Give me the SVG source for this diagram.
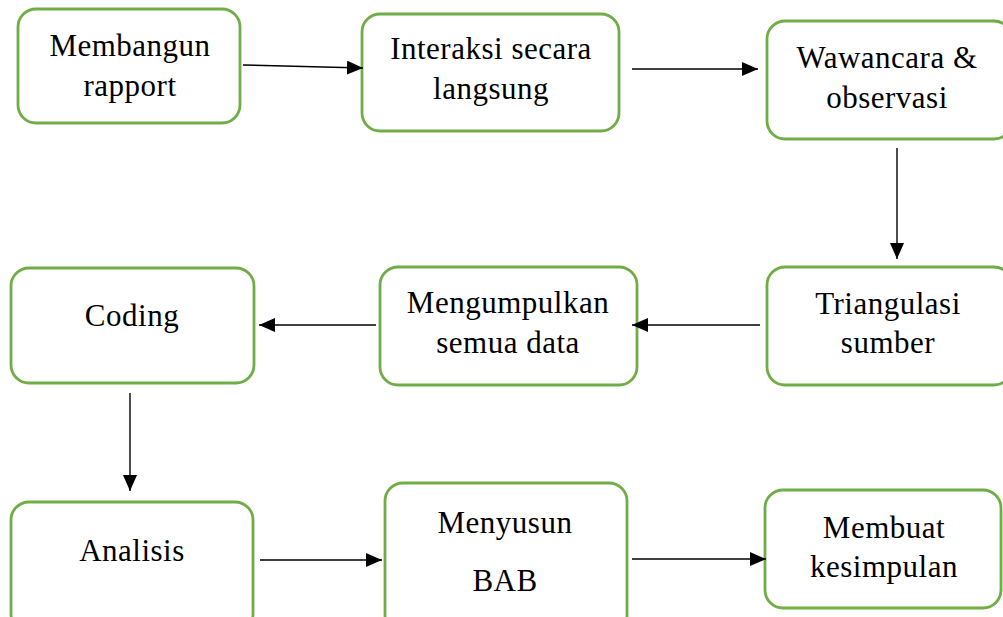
<svg xmlns="http://www.w3.org/2000/svg" width="1003" height="617" viewBox="0 0 1003 617">
<style>
.box{fill:#fff;stroke:#70AD47;stroke-width:2.8}
text{font-family:'Liberation Serif','Times New Roman',Times,serif;font-size:31px;fill:#000;text-anchor:middle;letter-spacing:0.5px}
.c{stroke:#000;stroke-width:1.4;fill:none;marker-end:url(#ah)}
</style>
<defs>
<marker id="ah" markerWidth="16" markerHeight="14" refX="16" refY="7" orient="auto" markerUnits="userSpaceOnUse">
<path d="M0,0 L16,7 L0,14 Z" fill="#000"/>
</marker>
</defs>
<rect width="1003" height="617" fill="#fff"/>
<g id="n1"><rect class="box" x="18" y="9" width="222" height="114" rx="18"/><text x="130" y="56">Membangun</text><text x="130" y="96">rapport</text></g>
<g id="n2"><rect class="box" x="362" y="14" width="257" height="117" rx="18"/><text x="491" y="59">Interaksi secara</text><text x="491" y="99">langsung</text></g>
<g id="n3"><rect class="box" x="767" y="21" width="245" height="118" rx="18"/><text x="887" y="68">Wawancara &amp;</text><text x="887" y="108">observasi</text></g>
<g id="n4"><rect class="box" x="767" y="267" width="245" height="118" rx="18"/><text x="888" y="314">Triangulasi</text><text x="888" y="353">sumber</text></g>
<g id="n5"><rect class="box" x="380" y="267" width="257" height="118" rx="18"/><text x="508" y="313">Mengumpulkan</text><text x="508" y="353">semua data</text></g>
<g id="n6"><rect class="box" x="11" y="268" width="243" height="115" rx="18"/><text x="132" y="326">Coding</text></g>
<g id="n7"><rect class="box" x="11" y="502" width="242" height="130" rx="18"/><text x="132" y="561">Analisis</text></g>
<g id="n8"><rect class="box" x="385" y="483" width="242" height="150" rx="18"/><text x="505" y="533">Menyusun</text><text x="505" y="591">BAB</text></g>
<g id="n9"><rect class="box" x="765" y="490" width="236" height="118" rx="18"/><text x="884" y="538">Membuat</text><text x="884" y="577">kesimpulan</text></g>
<g id="connectors">
<line class="c" x1="243" y1="65" x2="363" y2="68"/>
<line class="c" x1="632" y1="69" x2="758" y2="69"/>
<line class="c" x1="897" y1="148" x2="897" y2="259"/>
<line class="c" x1="760" y1="325" x2="632" y2="325"/>
<line class="c" x1="376" y1="325" x2="259" y2="325"/>
<line class="c" x1="130" y1="393" x2="130" y2="491"/>
<line class="c" x1="260" y1="560" x2="382" y2="560"/>
<line class="c" x1="632" y1="559" x2="766" y2="559"/>
</g>
</svg>
